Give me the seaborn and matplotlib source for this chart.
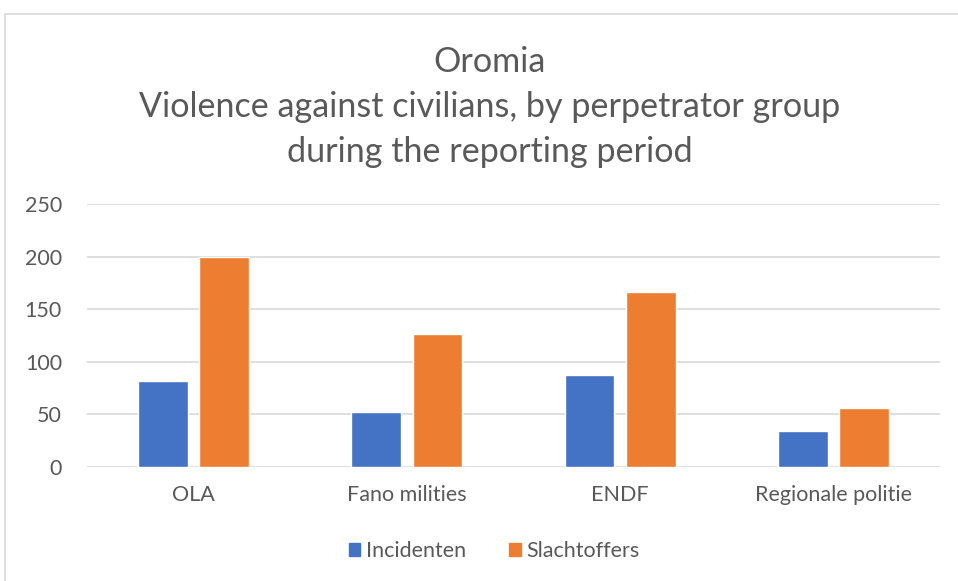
import pandas as pd
import matplotlib.pyplot as plt
import seaborn as sns
from matplotlib.patches import Rectangle

groups = ['OLA', 'Fano milities', 'ENDF', 'Regionale politie']
incidenten = [82, 52, 87, 34]
slachtoffers = [200, 126, 166, 56]
series = ['Incidenten', 'Slachtoffers']
colors = ['#4472C4', '#ED7D31']
title = 'Oromia\nViolence against civilians, by perpetrator group\nduring the reporting period'

df = pd.DataFrame({
    'group': groups * 2,
    'serie': [series[0]] * len(groups) + [series[1]] * len(groups),
    'value': incidenten + slachtoffers,
})

sns.set_theme(style='white')
plt.rcParams['font.family'] = ['Lato', 'DejaVu Sans']
text_color = '#595959'

fig = plt.figure(figsize=(9.58, 5.81), dpi=100)
ax = fig.add_axes([87 / 958, 1 - 467 / 581, (940 - 87) / 958, (467 - 204) / 581])

sns.barplot(data=df, x='group', y='value', hue='serie', palette=colors,
            width=0.575, gap=0.19, ax=ax, saturation=1, legend=False)

ax.set_ylim(0, 250)
ax.set_yticks(range(0, 251, 50))
ax.yaxis.grid(True, color='#D9D9D9', linewidth=1.2)
ax.set_axisbelow(True)
for s in ax.spines.values():
    s.set_visible(False)
ax.set_xlabel('')
ax.set_ylabel('')
ax.tick_params(axis='y', labelsize=15.5, colors=text_color, length=0, pad=18)
ax.tick_params(axis='x', labelsize=15.5, colors=text_color, length=0, pad=13)

fig.text(490 / 958, 1 - 107 / 581, title, ha='center', va='center',
         fontsize=24.6, color=text_color, linespacing=1.5)

# legend
handles = [Rectangle((0, 0), 1, 1, color=c) for c in colors]
fig.legend(handles, series, loc='center', bbox_to_anchor=(494 / 958, 1 - 551 / 581),
           ncol=2, frameon=False, fontsize=15.5, handlelength=0.55, handleheight=0.55,
           handletextpad=0.25, columnspacing=2.0, labelcolor=text_color)

# outer chart frame
fig.patches.append(Rectangle((5 / 958, -0.1), 1.2, 1 - 14 / 581 + 0.1, transform=fig.transFigure,
                             fill=False, edgecolor='#D9D9D9', linewidth=1.2))

fig.savefig('out.png', dpi=100)
